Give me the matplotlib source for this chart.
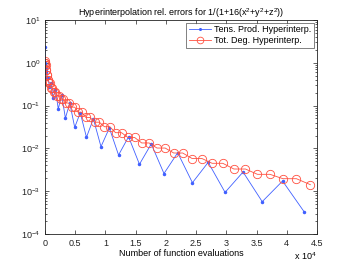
import matplotlib
matplotlib.use('Agg')
import matplotlib.pyplot as plt
from matplotlib.ticker import FixedLocator, FixedFormatter, LogLocator, NullFormatter

plt.rcParams['font.family'] = ['Liberation Sans', 'DejaVu Sans']
plt.rcParams['mathtext.fontset'] = 'custom'
plt.rcParams['mathtext.rm'] = 'Liberation Sans'
plt.rcParams['mathtext.it'] = 'Liberation Sans'

# Tens. Prod. hyperinterpolation: evaluations and relative errors
tp_evals = [1, 8, 27, 64, 125, 216, 343, 512, 729, 1000, 1331, 1728, 2197, 2744,
            3375, 4096, 4913, 5832, 6859, 8000, 9261, 10648, 12167, 13824, 15625,
            17576, 19683, 21952, 24389, 27000, 29791, 32768, 35937, 39304, 42875]
tp_err = [2.4, 1.0, 0.95, 0.8, 0.7, 0.6, 0.45, 0.45, 0.27, 0.33, 0.151, 0.235,
          0.083, 0.18, 0.051, 0.115, 0.031, 0.068, 0.0182, 0.049, 0.011, 0.030,
          0.0070, 0.0187, 0.00426, 0.0127, 0.00259, 0.00794, 0.00158, 0.00473,
          0.00094, 0.00281, 0.00057, 0.00173, 0.00033]

# Tot. Deg. hyperinterpolation: evaluations and relative errors
td_evals = [7, 16, 31, 54, 86, 128, 182, 250, 333, 432, 549, 686, 844, 1024,
            1228, 1458, 1715, 2000, 2315, 2662, 3042, 3456, 3906, 4394, 4921,
            5488, 6097, 6750, 7447, 8192, 8984, 9826, 10719, 11664, 12663, 13718,
            14830, 16000, 17230, 18522, 19877, 21296, 22781, 24334, 25956, 27648,
            29412, 31250, 33163, 35152, 37219, 39366, 41594, 43904]
td_err = [1.08, 1.0, 1.0, 0.9, 0.9, 0.69, 0.69, 0.53, 0.53, 0.40, 0.40, 0.34,
          0.34, 0.26, 0.26, 0.204, 0.204, 0.17, 0.17, 0.142, 0.142, 0.115, 0.115,
          0.092, 0.092, 0.070, 0.070, 0.053, 0.053, 0.041, 0.041, 0.0321, 0.0321,
          0.0233, 0.0233, 0.0180, 0.0180, 0.0134, 0.0134, 0.0102, 0.0102,
          0.00781, 0.00781, 0.00581, 0.00581, 0.00449, 0.00449, 0.00330,
          0.00330, 0.00248, 0.00248, 0.00196, 0.00196, 0.00142]

xtick_vals = [0, 5000, 10000, 15000, 20000, 25000, 30000, 35000, 40000, 45000]
xtick_labels = ['0', '0.5', '1', '1.5', '2', '2.5', '3', '3.5', '4', '4.5']

fig = plt.figure(figsize=(3.5, 2.64), dpi=100)
ax = fig.add_axes([0.1286, 0.1136, 0.7771, 0.8106])

ax.semilogy(tp_evals, tp_err, '.-', color='#4060ff', lw=0.6, ms=3,
            label='Tens. Prod. Hyperinterp.')
ax.semilogy(td_evals, td_err, 'o-', color='#ff5040', lw=0.6, ms=6,
            mfc='none', mew=0.6, label='Tot. Deg. Hyperinterp.')

ax.set_xlim(0, 45000)
ax.set_ylim(1e-4, 1e1)
ax.xaxis.set_major_locator(FixedLocator(xtick_vals))
ax.xaxis.set_major_formatter(FixedFormatter(xtick_labels))
ax.yaxis.set_major_locator(LogLocator(base=10, numticks=10))
ax.yaxis.set_minor_locator(LogLocator(base=10, subs=range(2, 10), numticks=10))
ax.yaxis.set_minor_formatter(NullFormatter())

ax.tick_params(which='both', direction='in', top=True, right=True,
               labelsize=6.5, colors='#222222', width=0.5)
ax.tick_params(which='major', length=3)
ax.tick_params(which='minor', length=1.6)
for s in ax.spines.values():
    s.set_linewidth(0.6)
    s.set_color('#222222')

ax.set_xlabel('Number of function evaluations', fontsize=6.5, labelpad=1)
ax.set_title('Hyperinterpolation rel. errors for 1/(1+16(x$^2$+y$^2$+z$^2$))',
             fontsize=6.5, pad=3)
ax.text(1.0, -0.075, 'x 10$^4$', transform=ax.transAxes, ha='right', va='top',
        fontsize=6.5)

leg = ax.legend(loc='upper right', fontsize=6.5, frameon=True, fancybox=False,
                borderpad=0.3, handlelength=2.4, labelspacing=0.2,
                borderaxespad=0.3, handletextpad=0.4, markerscale=0.8)
leg.get_frame().set_edgecolor('#222222')
leg.get_frame().set_linewidth(0.5)

fig.savefig('out.png', dpi=100)
